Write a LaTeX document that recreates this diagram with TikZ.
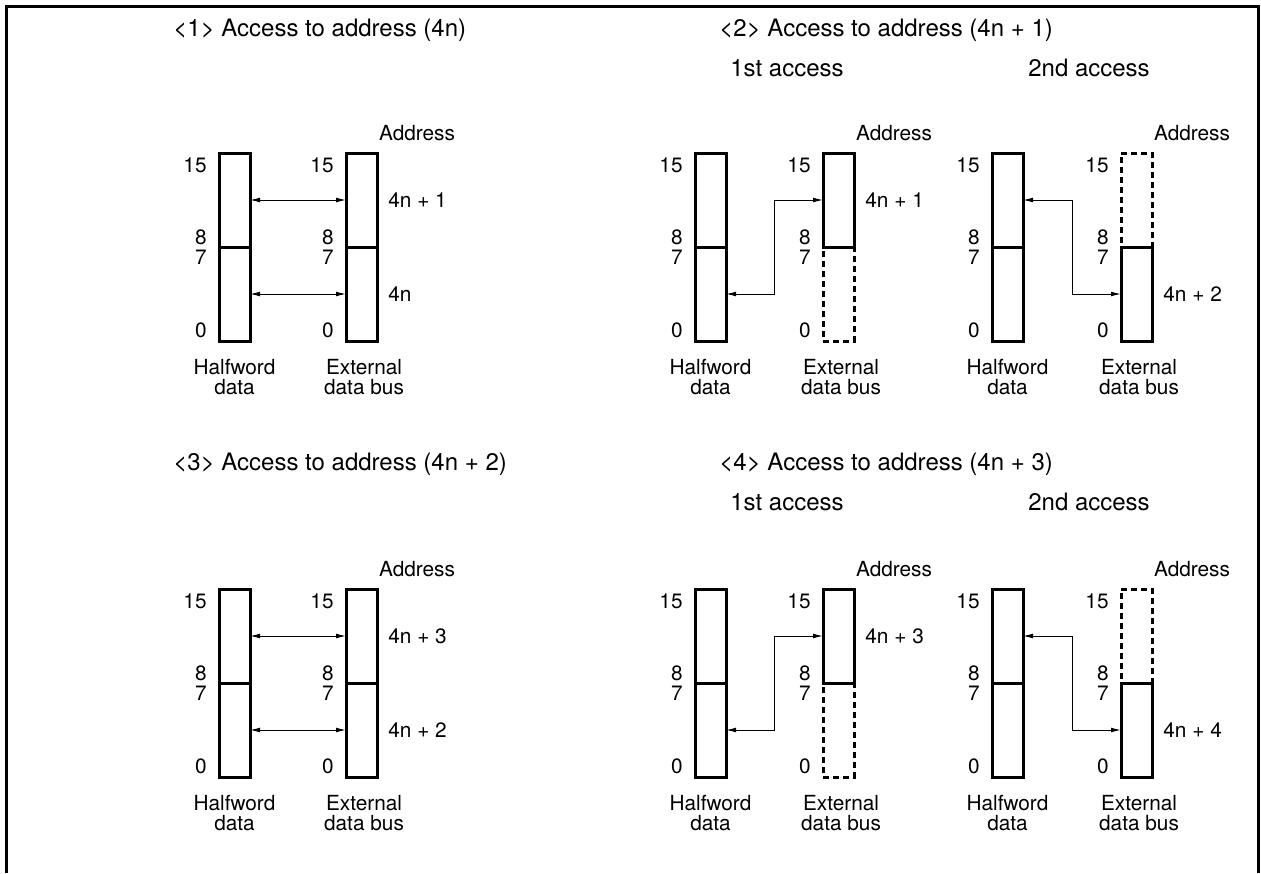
\documentclass[tikz,border=0pt]{standalone}
\usepackage{fontspec}
\setmainfont{TeX Gyre Heros}
\usetikzlibrary{arrows.meta, positioning, calc}
\tikzset{
    half/.style={draw, line width=1.5pt, minimum width=15.5pt, minimum height=47pt, inner sep=0pt, outer sep=0pt},
    unused/.style={half, dash pattern=on 3pt off 2pt},
    bit/.style={anchor=east, inner sep=0pt},
    lbl/.style={inner sep=0pt},
    head/.style={inner sep=0pt, font=\fontsize{12}{14}\selectfont},
    boxcap/.style={align=center, inner sep=0pt, font=\fontsize{10.4}{10}\selectfont},
    bus/.style={line width=0.5pt, {Latex[length=5pt,width=2.4pt]}-{Latex[length=5pt,width=2.4pt]}}
}

\begin{document}
\begin{tikzpicture}[x=0.5pt, y=-0.5pt, font=\fontsize{10.4}{12}\selectfont]
    \useasboundingbox (0,0) rectangle (1261,873);
    % frame, open at the bottom
    \draw[line width=1.5pt] (6,873) -- (6,6) -- (1258,6) -- (1258,873);

    % titles
    \node[head, anchor=west] (t1) at (173,30) {<1> Access to address (4n)};
    \node[head, anchor=west] (t2) at (719,30) {<2> Access to address (4n + 1)};
    \node[head, anchor=west] (t3) at (173,464) {<3> Access to address (4n + 2)};
    \node[head, anchor=west] (t4) at (719,464) {<4> Access to address (4n + 3)};
    \node[head] (s2a) at (787,68) {1st access};
    \node[head] (s2b) at (1089,68) {2nd access};
    \node[head] (s4a) at (787,502) {1st access};
    \node[head] (s4b) at (1089,502) {2nd access};

    % <1>
    \node[half, anchor=north west] (hw1-up) at (219,153) {};
    \node[half, below=0pt of hw1-up] (hw1-lo) {};
    \node[half, anchor=north west] (xb1-up) at (346,153) {};
    \node[half, below=0pt of xb1-up] (xb1-lo) {};
    \draw[bus] (hw1-up.east) -- (xb1-up.west);
    \draw[bus] (hw1-lo.east) -- (xb1-lo.west);
    \node[lbl, anchor=west] (v1u) at ([xshift=5.5pt]xb1-up.east) {4n + 1};
    \node[lbl, anchor=west] (v1l) at ([xshift=5.5pt]xb1-lo.east) {4n};

    % <2> 1st access
    \node[half, anchor=north west] (hw2-up) at (695,153) {};
    \node[half, below=0pt of hw2-up] (hw2-lo) {};
    \node[half, anchor=north west] (xb2-up) at (823,153) {};
    \node[unused, below=0pt of xb2-up] (xb2-lo) {};
    \draw[bus] (hw2-lo.east) -| ($(hw2-lo.east)!.5!(xb2-up.west)$) |- (xb2-up.west);
    \node[lbl, anchor=west] (v2u) at ([xshift=5.5pt]xb2-up.east) {4n + 1};

    % <2> 2nd access
    \node[half, anchor=north west] (hw3-up) at (992,153) {};
    \node[half, below=0pt of hw3-up] (hw3-lo) {};
    \node[unused, anchor=north west] (xb3-up) at (1121,153) {};
    \node[half, below=0pt of xb3-up] (xb3-lo) {};
    \draw[bus] (hw3-up.east) -| ($(hw3-up.east)!.5!(xb3-lo.west)$) |- (xb3-lo.west);
    \node[lbl, anchor=west] (v3l) at ([xshift=5.5pt]xb3-lo.east) {4n + 2};

    % <3>
    \node[half, anchor=north west] (hw4-up) at (219,589) {};
    \node[half, below=0pt of hw4-up] (hw4-lo) {};
    \node[half, anchor=north west] (xb4-up) at (346,589) {};
    \node[half, below=0pt of xb4-up] (xb4-lo) {};
    \draw[bus] (hw4-up.east) -- (xb4-up.west);
    \draw[bus] (hw4-lo.east) -- (xb4-lo.west);
    \node[lbl, anchor=west] (v4u) at ([xshift=5.5pt]xb4-up.east) {4n + 3};
    \node[lbl, anchor=west] (v4l) at ([xshift=5.5pt]xb4-lo.east) {4n + 2};

    % <4> 1st access
    \node[half, anchor=north west] (hw5-up) at (695,589) {};
    \node[half, below=0pt of hw5-up] (hw5-lo) {};
    \node[half, anchor=north west] (xb5-up) at (823,589) {};
    \node[unused, below=0pt of xb5-up] (xb5-lo) {};
    \draw[bus] (hw5-lo.east) -| ($(hw5-lo.east)!.5!(xb5-up.west)$) |- (xb5-up.west);
    \node[lbl, anchor=west] (v5u) at ([xshift=5.5pt]xb5-up.east) {4n + 3};

    % <4> 2nd access
    \node[half, anchor=north west] (hw6-up) at (992,589) {};
    \node[half, below=0pt of hw6-up] (hw6-lo) {};
    \node[unused, anchor=north west] (xb6-up) at (1121,589) {};
    \node[half, below=0pt of xb6-up] (xb6-lo) {};
    \draw[bus] (hw6-up.east) -| ($(hw6-up.east)!.5!(xb6-lo.west)$) |- (xb6-lo.west);
    \node[lbl, anchor=west] (v6l) at ([xshift=5.5pt]xb6-lo.east) {4n + 4};

    % bit numbers
    \foreach \b in {hw1,xb1,hw2,xb2,hw3,xb3,hw4,xb4,hw5,xb5,hw6,xb6}{
        \node[bit] (\b-15) at ([shift={(-6pt,-6pt)}]\b-up.north west) {15};
        \node[bit] (\b-8) at ([shift={(-6pt,5pt)}]\b-up.south west) {8};
        \node[bit] (\b-7) at ([shift={(-6pt,-5pt)}]\b-lo.north west) {7};
        \node[bit] (\b-0) at ([shift={(-6pt,5.5pt)}]\b-lo.south west) {0};
    }
    % captions and address heads
    \foreach \n in {1,...,6}{
        \node[boxcap] (hw\n-cap) at ([yshift=-18pt]hw\n-lo.south) {Halfword\\data};
        \node[boxcap] (xb\n-cap) at ([shift={(1.25pt,-18pt)}]xb\n-lo.south) {External\\data bus};
        \node[lbl] (ad\n) at ([shift={(35.5pt,10pt)}]xb\n-up.north west) {Address};
    }
\end{tikzpicture}
\end{document}
